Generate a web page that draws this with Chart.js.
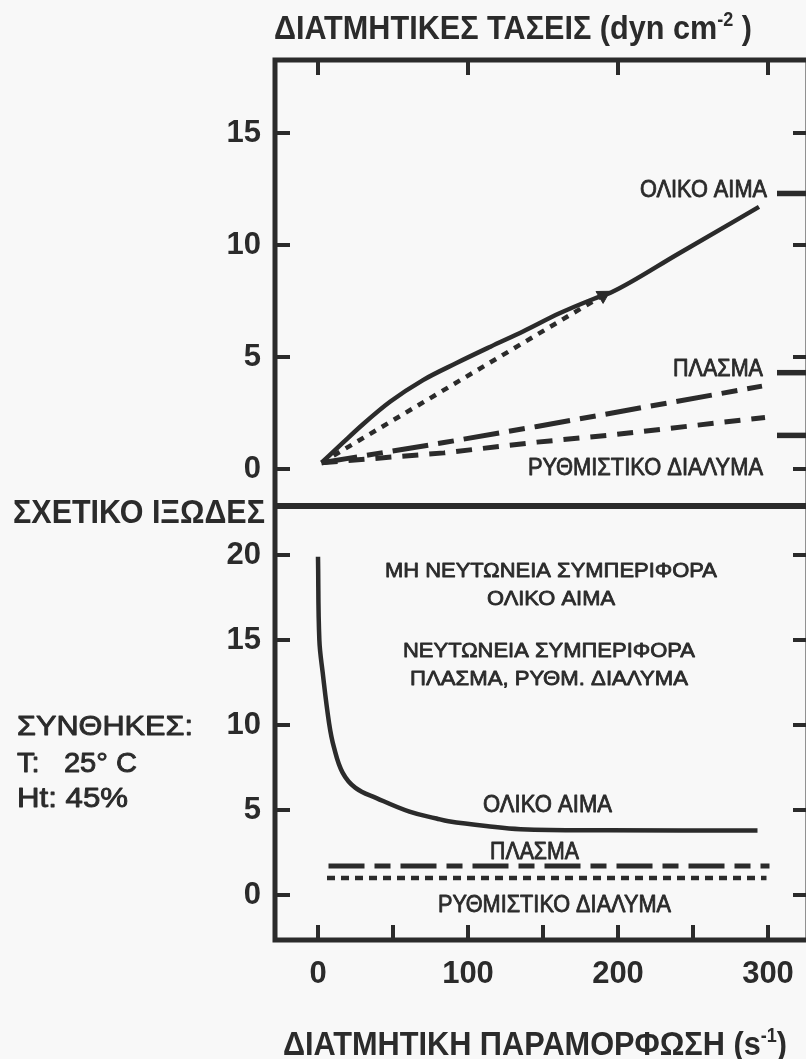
<!DOCTYPE html>
<html lang="el">
<head>
<meta charset="utf-8">
<title>Διατμητικές τάσεις και σχετικό ιξώδες</title>
<script src="https://cdn.jsdelivr.net/npm/chart.js@4.4.1/dist/chart.umd.min.js"></script>
<style>
  html, body { margin: 0; padding: 0; background: #f8f8f8; overflow: hidden; width: 806px; height: 1059px; }
  #wrap { position: absolute; left: 0; top: 0; width: 830px; height: 1059px; }
  canvas { display: block; }
</style>
</head>
<body>
<div id="wrap"><canvas id="rheo" width="830" height="1059"></canvas></div>
<script>
// ---- Shear stress (dyn cm^-2) against shear rate (s^-1) ----
const bloodStressRate = [2.4, 17, 30, 48, 70, 92, 115, 137, 161, 184, 196, 240, 294];
const bloodStress     = [0.28, 1.2, 2.0, 3.0, 3.97, 4.72, 5.46, 6.15, 6.95, 7.6, 7.9, 9.6, 11.7];
const newtonRate      = [2.4, 190];
const newtonStress    = [0.28, 7.75];
const plasmaStressRate = [2.4, 84, 146, 296];
const plasmaStress     = [0.28, 1.18, 1.9, 3.7];
const bufferStressRate = [2.4, 84, 146, 193, 298];
const bufferStress     = [0.28, 0.72, 1.2, 1.5, 2.3];
const stressMarks      = [12.3, 4.3, 1.5];

// ---- Relative viscosity against shear rate ----
const bloodViscRate  = [0, 0.9, 3.1, 7.4, 10.6, 16.4, 25, 39, 61, 79, 87, 112, 135, 193, 293];
const bloodVisc      = [19.9, 15, 13.1, 10.1, 8.7, 7.2, 6.3, 5.7, 4.9, 4.5, 4.34, 4.06, 3.87, 3.81, 3.8];
const plasmaViscRate = [7, 301];
const plasmaVisc     = [1.7, 1.7];
const bufferViscRate = [6, 299];
const bufferVisc     = [1.0, 1.0];

// ---- Axis ticks ----
const rateTicks      = [0, 100, 200, 300];
const rateMinorTicks = [0, 50, 100, 150, 200, 250, 300];
const stressTicks    = [0, 5, 10, 15];
const viscTicks      = [0, 5, 10, 15, 20];

const ink = '#2b2b2b';
const FONT = "'Liberation Sans', 'Arial', sans-serif";

function pts(xs, ys) { return xs.map((v, i) => ({ x: v, y: ys[i] })); }

// Text placed around the plot: [text parts], left, baseline, width, extra stroke weight
const notes = [
  { parts: [{ t: 'ΔΙΑΤΜΗΤΙΚΕΣ ΤΑΣΕΙΣ (dyn cm', size: 34, weight: 'bold' },
            { t: '-2', size: 20, weight: 'bold', dy: -13 },
            { t: ' )', size: 34, weight: 'bold' }], left: 274, base: 39, width: 478 },
  { parts: [{ t: 'ΔΙΑΤΜΗΤΙΚΗ ΠΑΡΑΜΟΡΦΩΣΗ (s', size: 34, weight: 'bold' },
            { t: '-1', size: 20, weight: 'bold', dy: -13 },
            { t: ')', size: 34, weight: 'bold' }], left: 283, base: 1055, width: 504 },
  { parts: [{ t: 'ΣΧΕΤΙΚΟ ΙΞΩΔΕΣ', size: 33, weight: 'bold' }], left: 13, base: 523, width: 252 },
  { parts: [{ t: 'ΣΥΝΘΗΚΕΣ:', size: 28 }], left: 17, base: 735, width: 176, heavy: 0.9 },
  { parts: [{ t: 'T:   25° C', size: 28 }], left: 17, base: 772, width: 120, heavy: 0.9 },
  { parts: [{ t: 'Ht: 45%', size: 28 }], left: 17, base: 807, width: 111, heavy: 0.9 },
  // upper panel curve names
  { parts: [{ t: 'ΟΛΙΚΟ ΑΙΜΑ', size: 23 }], left: 640, base: 197, width: 127, heavy: 0.8 },
  { parts: [{ t: 'ΠΛΑΣΜΑ', size: 23 }], left: 673, base: 376, width: 90, heavy: 0.8 },
  { parts: [{ t: 'ΡΥΘΜΙΣΤΙΚΟ ΔΙΑΛΥΜΑ', size: 23 }], left: 528, base: 475, width: 235, heavy: 0.8 },
  // lower panel notes
  { parts: [{ t: 'ΜΗ ΝΕΥΤΩΝΕΙΑ ΣΥΜΠΕΡΙΦΟΡΑ', size: 21 }], left: 385, base: 577, width: 332, heavy: 0.8 },
  { parts: [{ t: 'ΟΛΙΚΟ ΑΙΜΑ', size: 21 }], left: 487, base: 605, width: 128, heavy: 0.8 },
  { parts: [{ t: 'ΝΕΥΤΩΝΕΙΑ ΣΥΜΠΕΡΙΦΟΡΑ', size: 21 }], left: 403, base: 657, width: 292, heavy: 0.8 },
  { parts: [{ t: 'ΠΛΑΣΜΑ, ΡΥΘΜ. ΔΙΑΛΥΜΑ', size: 21 }], left: 410, base: 685, width: 278, heavy: 0.8 },
  { parts: [{ t: 'ΟΛΙΚΟ ΑΙΜΑ', size: 23 }], left: 483, base: 812, width: 129, heavy: 0.8 },
  { parts: [{ t: 'ΠΛΑΣΜΑ', size: 23 }], left: 490, base: 859, width: 89, heavy: 0.8 },
  { parts: [{ t: 'ΡΥΘΜΙΣΤΙΚΟ ΔΙΑΛΥΜΑ', size: 23 }], left: 438, base: 912, width: 233, heavy: 0.8 }
];

function richText(ctx, parts, left, base, width, heavy) {
  let total = 0;
  parts.forEach(p => {
    ctx.font = `${p.weight || 'normal'} ${p.size}px ${FONT}`;
    p.w = ctx.measureText(p.t).width;
    total += p.w;
  });
  const k = width / total;
  ctx.save();
  ctx.translate(left, base);
  ctx.scale(k, 1);
  ctx.textBaseline = 'alphabetic';
  ctx.textAlign = 'left';
  ctx.fillStyle = ink;
  ctx.strokeStyle = ink;
  ctx.lineJoin = 'round';
  let x = 0;
  parts.forEach(p => {
    ctx.font = `${p.weight || 'normal'} ${p.size}px ${FONT}`;
    ctx.fillText(p.t, x, p.dy || 0);
    if (heavy) { ctx.lineWidth = heavy; ctx.strokeText(p.t, x, p.dy || 0); }
    x += p.w;
  });
  ctx.restore();
}

// Frame, divider, tick marks and text
const framePlugin = {
  id: 'frame',
  afterDraw(chart) {
    const { ctx, chartArea: a, scales } = chart;
    const xs = scales.x, yT = scales.yTop, yB = scales.yBot;
    ctx.save();
    ctx.strokeStyle = ink;
    ctx.lineCap = 'butt';
    const seg = (x1, y1, x2, y2, w) => {
      ctx.lineWidth = w; ctx.beginPath(); ctx.moveTo(x1, y1); ctx.lineTo(x2, y2); ctx.stroke();
    };
    ctx.lineWidth = 5;
    ctx.strokeRect(a.left, a.top, a.right - a.left, a.bottom - a.top);
    seg(a.left, yT.bottom, a.right, yT.bottom, 6);

    const tl = 15;
    stressTicks.forEach(v => {
      const y = yT.getPixelForValue(v);
      seg(a.left, y, a.left + tl, y, 4);
      seg(a.right - tl, y, a.right, y, 4);
    });
    viscTicks.forEach(v => {
      const y = yB.getPixelForValue(v);
      seg(a.left, y, a.left + tl, y, 4);
      seg(a.right - tl, y, a.right, y, 4);
    });
    stressMarks.forEach(v => {
      const y = yT.getPixelForValue(v);
      seg(a.right - 31, y, a.right, y, 5.5);
    });
    rateTicks.forEach(v => {
      const x = xs.getPixelForValue(v);
      seg(x, a.top, x, a.top + tl, 4);
    });
    rateMinorTicks.forEach(v => {
      const x = xs.getPixelForValue(v);
      seg(x, a.bottom, x, a.bottom - tl, 4);
    });
    ctx.restore();

    notes.forEach(n => richText(ctx, n.parts, n.left, n.base, n.width, n.heavy));
  }
};

function arrowAngle(c) {
  const ch = c.chart;
  const xs = ch.scales.x, ys = ch.scales.yTop;
  if (!xs || !ys) return 0;
  const n = newtonRate.length - 1;
  const dx = xs.getPixelForValue(newtonRate[n]) - xs.getPixelForValue(newtonRate[n - 1]);
  const dy = ys.getPixelForValue(newtonStress[n]) - ys.getPixelForValue(newtonStress[n - 1]);
  return Math.atan2(dy, dx) * 180 / Math.PI + 90;
}

const tickFont = { family: FONT, size: 31, weight: 'bold' };

new Chart(document.getElementById('rheo'), {
  type: 'scatter',
  data: {
    datasets: [
      { label: 'ΟΛΙΚΟ ΑΙΜΑ', data: pts(bloodStressRate, bloodStress), yAxisID: 'yTop',
        showLine: true, borderColor: ink, borderWidth: 4.5, cubicInterpolationMode: 'monotone', pointRadius: 0 },
      { label: 'ΟΛΙΚΟ ΑΙΜΑ (νευτώνεια)', data: pts(newtonRate, newtonStress), yAxisID: 'yTop',
        showLine: true, borderColor: ink, borderWidth: 4.5, borderDash: [7, 7],
        pointRadius: c => (c.dataIndex === newtonRate.length - 1 ? 8 : 0),
        pointStyle: 'triangle', rotation: arrowAngle,
        pointBackgroundColor: ink, pointBorderColor: ink, pointBorderWidth: 1 },
      { label: 'ΠΛΑΣΜΑ', data: pts(plasmaStressRate, plasmaStress), yAxisID: 'yTop',
        showLine: true, borderColor: ink, borderWidth: 5, borderDash: [36, 10, 16, 10], pointRadius: 0 },
      { label: 'ΡΥΘΜΙΣΤΙΚΟ ΔΙΑΛΥΜΑ', data: pts(bufferStressRate, bufferStress), yAxisID: 'yTop',
        showLine: true, borderColor: ink, borderWidth: 5, borderDash: [16, 11], pointRadius: 0 },

      { label: 'ΟΛΙΚΟ ΑΙΜΑ', data: pts(bloodViscRate, bloodVisc), yAxisID: 'yBot',
        showLine: true, borderColor: ink, borderWidth: 4.5, tension: 0.4, pointRadius: 0 },
      { label: 'ΠΛΑΣΜΑ', data: pts(plasmaViscRate, plasmaVisc), yAxisID: 'yBot',
        showLine: true, borderColor: ink, borderWidth: 5, borderDash: [36, 10, 16, 10], pointRadius: 0 },
      { label: 'ΡΥΘΜΙΣΤΙΚΟ ΔΙΑΛΥΜΑ', data: pts(bufferViscRate, bufferVisc), yAxisID: 'yBot',
        showLine: true, borderColor: ink, borderWidth: 4.5, borderDash: [8, 6], pointRadius: 0 }
    ]
  },
  options: {
    responsive: false,
    devicePixelRatio: 1,
    animation: false,
    events: [],
    layout: { padding: { top: 60, right: 22, bottom: 0, left: 0 } },
    plugins: { legend: { display: false }, tooltip: { enabled: false } },
    scales: {
      x: {
        type: 'linear', position: 'bottom', min: -28.67, max: 326.67,
        grid: { display: false, drawTicks: false }, border: { display: false },
        afterBuildTicks: s => { s.ticks = rateTicks.map(v => ({ value: v })); },
        afterFit: s => { s.height = 119; },
        ticks: { font: tickFont, color: ink, padding: 16, autoSkip: false, maxRotation: 0 }
      },
      // lower panel (relative viscosity); declared first so it sits below the stress panel
      yBot: {
        type: 'linear', position: 'left', stack: 'panels', stackWeight: 434,
        min: -2.647, max: 22.882,
        grid: { display: false, drawTicks: false }, border: { display: false },
        afterBuildTicks: s => { s.ticks = viscTicks.map(v => ({ value: v })); },
        afterFit: s => { s.width = 275; },
        ticks: { font: tickFont, color: ink, padding: 14, autoSkip: false }
      },
      // upper panel (shear stress)
      yTop: {
        type: 'linear', position: 'left', stack: 'panels', stackWeight: 446,
        min: -1.652, max: 18.259,
        grid: { display: false, drawTicks: false }, border: { display: false },
        afterBuildTicks: s => { s.ticks = stressTicks.map(v => ({ value: v })); },
        afterFit: s => { s.width = 275; },
        ticks: { font: tickFont, color: ink, padding: 14, autoSkip: false }
      }
    }
  },
  plugins: [framePlugin]
});
</script>
</body>
</html>
